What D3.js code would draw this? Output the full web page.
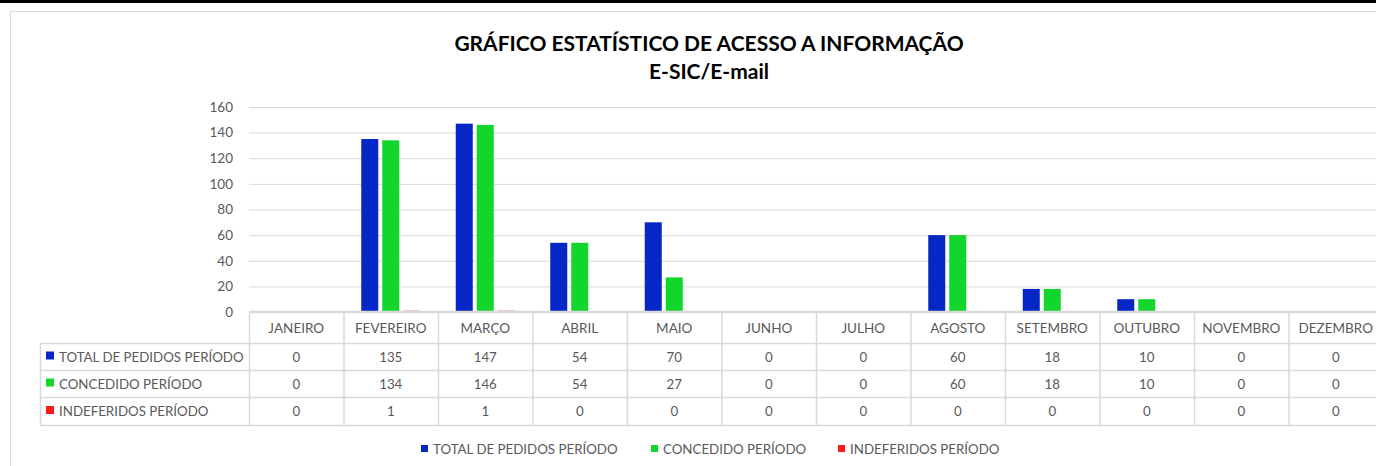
<!DOCTYPE html>
<html>
<head>
<meta charset="utf-8">
<script src="https://cdn.jsdelivr.net/npm/d3@7"></script>
<style>
  body { margin: 0; background: #fff; }
  text { font-family: Lato, "Open Sans", sans-serif; fill: #595959; }
</style>
</head>
<body>
<div id="chart"></div>
<script>
// data
const months = ["JANEIRO", "FEVEREIRO", "MARÇO", "ABRIL", "MAIO", "JUNHO", "JULHO",
  "AGOSTO", "SETEMBRO", "OUTUBRO", "NOVEMBRO", "DEZEMBRO"];
const seriesNames = ["TOTAL DE PEDIDOS PERÍODO", "CONCEDIDO PERÍODO", "INDEFERIDOS PERÍODO"];
const totalPedidos = [0, 135, 147, 54, 70, 0, 0, 60, 18, 10, 0, 0];
const concedido = [0, 134, 146, 54, 27, 0, 0, 60, 18, 10, 0, 0];
const indeferidos = [0, 1, 1, 0, 0, 0, 0, 0, 0, 0, 0, 0];
const yTicks = [0, 20, 40, 60, 80, 100, 120, 140, 160];
const colors = ["#0527c6", "#13d62d", "#fe1a1a"];

const values = [totalPedidos, concedido, indeferidos];

const width = 1376, height = 466,
  margin = ({top: 107, right: -7, bottom: 154, left: 249});
const plotBottom = height - margin.bottom; // y of zero line
const rowH = [31, 27, 27, 28]; // header + 3 rows

const svg = d3.select("#chart")
  .append("svg")
  .attr("width", width)
  .attr("height", height);

// black strip at the very top and the chart frame
svg.append("rect").attr("x", 0).attr("y", 0).attr("width", width).attr("height", 3).attr("fill", "#000");
svg.append("rect")
  .attr("x", 10.5).attr("y", 11.5)
  .attr("width", 1400).attr("height", 500)
  .attr("fill", "none").attr("stroke", "#d9d9d9");

let x = d3.scaleBand()
  .domain(months)
  .range([margin.left, width - margin.right])
  .paddingInner(0);

let xs = d3.scaleBand()
  .domain(seriesNames)
  .range([x.bandwidth() / 2 - 29.5, x.bandwidth() / 2 + 29.5])
  .paddingInner(0.19);

let y = d3.scaleLinear()
  .domain([0, 160])
  .range([plotBottom, margin.top]);

// title
const title = svg.append("text")
  .attr("text-anchor", "middle")
  .style("font-weight", "bold")
  .style("font-size", "21px");
title.append("tspan").attr("x", 709).attr("y", 51).style("fill", "#000")
  .text("GRÁFICO ESTATÍSTICO DE ACESSO A INFORMAÇÃO");
title.append("tspan").attr("x", 709).attr("y", 79).style("fill", "#000")
  .text("E-SIC/E-mail");

// y axis with gridlines
const yAxis = svg.append("g")
  .attr("transform", `translate(${margin.left},0)`)
  .call(d3.axisLeft(y).tickValues(yTicks).tickSize(-(width - margin.right - margin.left)).tickPadding(16));
yAxis.select(".domain").remove();
yAxis.selectAll("line").attr("stroke", "#d9d9d9");
yAxis.selectAll("text").style("font-size", "13.5px").style("fill", "#595959")
  .style("font-family", "Lato, sans-serif");

// bars
const groups = svg.append("g").selectAll("g")
  .data(months)
  .join("g")
  .attr("transform", d => `translate(${x(d)},0)`);

groups.selectAll("rect")
  .data((m, i) => seriesNames.map((s, k) => ({s, k, v: values[k][i]})))
  .join("rect")
  .attr("x", d => xs(d.s))
  .attr("width", xs.bandwidth())
  .attr("y", d => y(d.v))
  .attr("height", d => y(0) - y(d.v))
  .attr("fill", d => colors[d.k]);

// data table under the plot
const tbl = svg.append("g");
const rowTop = [plotBottom];
rowH.forEach((h, i) => rowTop.push(rowTop[i] + h));
const tableLeft = 40;
const tableRight = width - margin.right;
const lineColor = "#d9d9d9";

// horizontal lines
tbl.append("line").attr("x1", margin.left).attr("x2", tableRight)
  .attr("y1", rowTop[0]).attr("y2", rowTop[0]).attr("stroke", lineColor).attr("stroke-width", 2.5);
for (let r = 1; r < rowTop.length; r++) {
  tbl.append("line").attr("x1", tableLeft).attr("x2", tableRight)
    .attr("y1", rowTop[r] + 0.5).attr("y2", rowTop[r] + 0.5).attr("stroke", lineColor).attr("stroke-width", 1.5);
}
// vertical lines
tbl.append("line").attr("x1", tableLeft + 0.5).attr("x2", tableLeft + 0.5)
  .attr("y1", rowTop[1]).attr("y2", rowTop[4]).attr("stroke", lineColor).attr("stroke-width", 1.5);
months.forEach(m => {
  tbl.append("line").attr("x1", x(m) + 0.5).attr("x2", x(m) + 0.5)
    .attr("y1", rowTop[0]).attr("y2", rowTop[4]).attr("stroke", lineColor).attr("stroke-width", 1.5);
});

// month headers
tbl.selectAll(".month")
  .data(months)
  .join("text")
  .attr("class", "month")
  .attr("x", d => x(d) + x.bandwidth() / 2)
  .attr("y", (rowTop[0] + rowTop[1]) / 2 + 5)
  .attr("text-anchor", "middle")
  .style("font-size", "13.5px")
  .text(d => d);

// rows
seriesNames.forEach((s, k) => {
  const cy = (rowTop[k + 1] + rowTop[k + 2]) / 2;
  tbl.append("rect").attr("x", 46).attr("y", cy - 5).attr("width", 8).attr("height", 8)
    .attr("fill", colors[k]);
  tbl.append("text").attr("x", 59).attr("y", cy + 5)
    .style("font-size", "13.3px").text(s);
  tbl.selectAll(".v" + k)
    .data(values[k])
    .join("text")
    .attr("class", "v" + k)
    .attr("x", (d, i) => x(months[i]) + x.bandwidth() / 2)
    .attr("y", cy + 5)
    .attr("text-anchor", "middle")
    .style("font-size", "13.3px")
    .text(d => d);
});

// bottom legend
const legendX = [421, 651, 838];
const legend = svg.append("g").selectAll("g")
  .data(seriesNames)
  .join("g")
  .attr("transform", (d, i) => `translate(${legendX[i]},449)`);
legend.append("rect").attr("x", 0).attr("y", -4).attr("width", 7).attr("height", 7)
  .attr("fill", (d, i) => colors[i]);
legend.append("text").attr("x", 12).attr("y", 4.5)
  .style("font-size", "13.3px").text(d => d);
</script>
</body>
</html>
